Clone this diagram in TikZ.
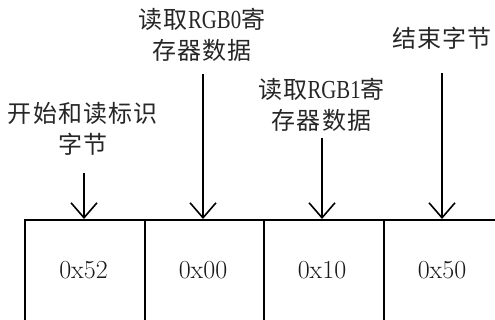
\documentclass[tikz,border=0pt]{standalone}
\usepackage{fontspec}
\usepackage{graphicx}
\newfontfamily\cjk[LetterSpace=5]{Noto Sans CJK SC}
\newfontfamily\latn{Liberation Serif}
\newcommand{\rgbtxt}[1]{\scalebox{0.8}[1]{\latn\fontsize{26}{31}\selectfont #1}}
\usetikzlibrary{arrows.meta}
\begin{document}
\begin{tikzpicture}[x=1pt,y=-1pt,
  cell/.style={draw,line width=1.6pt,minimum width=119.5pt,minimum height=125pt,anchor=north west,inner sep=0pt},
  hex/.style={font=\fontsize{26}{26}\selectfont,text=black!90},
  lbl/.style={align=center,font=\cjk\fontsize{24}{31}\selectfont,text=black!85,inner sep=0pt},
  arr/.style={line width=1.6pt,-{Straight Barb[length=15pt,width=26pt,line width=1.6pt]}}]
\useasboundingbox (0,0) rectangle (495,320);
\node[cell] (c1) at (24,219) {};
\node[cell] (c2) at (144,219) {};
\node[cell] (c3) at (263,219) {};
\node[cell,minimum width=140pt] (c4) at (383,219) {};
\node[hex] (t1) at (83.5,270) {0x52};
\node[hex] (t2) at (203,270) {0x00};
\node[hex] (t3) at (322,270) {0x10};
\node[hex] (t4) at (442,270) {0x50};
\node[lbl] (l1) at (83,129) {开始和读标识\\字节};
\node[lbl] (l2) at (202,35) {读取\rgbtxt{RGB0}寄\\存器数据};
\node[lbl] (l3) at (321.5,105) {读取\rgbtxt{RGB1}寄\\存器数据};
\node[lbl] (l4) at (442,38) {结束字节};
\coordinate (s1) at (84,173);
\coordinate (s2) at (203,74);
\coordinate (s3) at (322,138);
\coordinate (s4) at (442,73);
\draw[arr] (s1) -- (s1 |- c1.north);
\draw[arr] (s2) -- (s2 |- c2.north);
\draw[arr] (s3) -- (s3 |- c3.north);
\draw[arr] (s4) -- (s4 |- c4.north);
\end{tikzpicture}
\end{document}
